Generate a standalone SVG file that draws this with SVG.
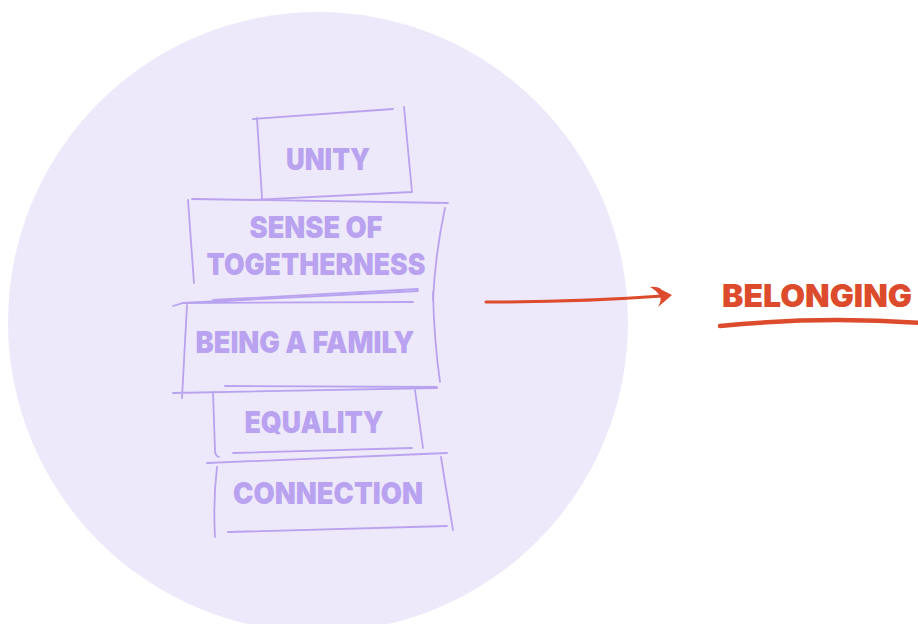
<svg xmlns="http://www.w3.org/2000/svg" width="918" height="624" viewBox="0 0 918 624">
<style>
.sk{fill:none;stroke:#B9A2EF;stroke-width:1.8;stroke-linecap:round}
.lbl{font-family:Inter,"Liberation Sans",sans-serif;font-weight:900;font-size:30px;fill:#B9A2EF;text-anchor:middle}
.red{font-family:Inter,"Liberation Sans",sans-serif;font-weight:900;font-size:31px;fill:#DC4B2B}
</style>
<rect width="918" height="624" fill="#FFFFFF"/>
<circle cx="318" cy="322" r="310" fill="#EEE9FA"/>
<g id="unity">
<path class="sk" d="M253 119 L393 109 M257 118 L262 198 M404 107 L412 192 M252 200 L412 192"/>
<text class="lbl" x="328" y="170" textLength="84" lengthAdjust="spacingAndGlyphs">UNITY</text>
</g>
<g id="sense">
<path class="sk" d="M192 199 L448 203 M188 200 L194 283 M445 208 Q435 255 433 300 M213 300 L418 289"/>
<text class="lbl" x="316" y="238" textLength="133" lengthAdjust="spacingAndGlyphs">SENSE OF</text>
<text class="lbl" x="316" y="275" textLength="219" lengthAdjust="spacingAndGlyphs">TOGETHERNESS</text>
</g>
<g id="family">
<path class="sk" d="M173 306 L183 303 L418 291 M183 303 L413 302 M187 305 L182 398 M433 292 Q434 340 440 382 M173 393 L437 388"/>
<text class="lbl" x="305" y="353" textLength="219" lengthAdjust="spacingAndGlyphs">BEING A FAMILY</text>
</g>
<g id="equality">
<path class="sk" d="M225 386 L437 387 M213 392 L215 450 Q215 456 219 457 M415 390 L423 448 M233 453 L412 448"/>
<text class="lbl" x="314" y="433" textLength="139" lengthAdjust="spacingAndGlyphs">EQUALITY</text>
</g>
<g id="connection">
<path class="sk" d="M207 463 L447 453 M217 467 Q213 500 215 537 M441 457 Q447 495 453 530 M228 532 L447 526"/>
<text class="lbl" x="328" y="504" textLength="190" lengthAdjust="spacingAndGlyphs">CONNECTION</text>
</g>
<g id="connectors">
<path d="M486 302 Q580 302 662 296" fill="none" stroke="#DC4B2B" stroke-width="3" stroke-linecap="round"/>
<path d="M650 287 Q658 286 662 290 L672 295 L658 307 Q662 300 660 296 Q656 290 650 287 Z" fill="#DC4B2B"/>
</g>
<g id="belonging">
<text class="red" x="722" y="307" textLength="190" lengthAdjust="spacingAndGlyphs">BELONGING</text>
<path d="M720 326 Q820 316 920 323" fill="none" stroke="#DC4B2B" stroke-width="4.5" stroke-linecap="round"/>
</g>
</svg>
